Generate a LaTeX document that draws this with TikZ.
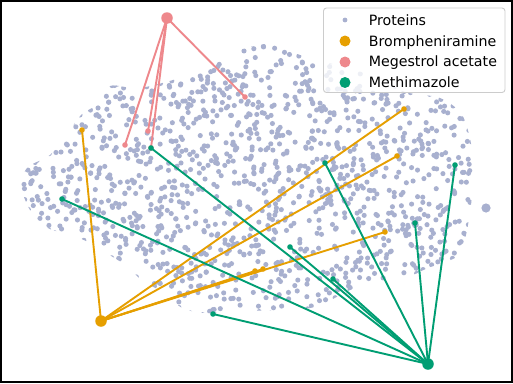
\documentclass[tikz,border=0pt]{standalone}
\usepackage{fontspec}
\setmainfont{DejaVu Sans}
\definecolor{prot}{RGB}{168,176,207}
\definecolor{brom}{RGB}{230,159,0}
\definecolor{mege}{RGB}{238,136,140}
\definecolor{meth}{RGB}{0,158,115}
\definecolor{legframe}{RGB}{204,204,204}
\tikzset{
  protdot/.style={fill=prot},
  hubdot/.style={circle,inner sep=0pt,minimum size=11.5pt,draw=none},
  tgtdot/.style={circle,inner sep=0pt,minimum size=5.6pt,draw=none},
  link/.style={line width=1.9pt},
  legtext/.style={anchor=base west,inner sep=0pt,font=\fontsize{14.2}{17}\selectfont},
}
\begin{document}
\begin{tikzpicture}[x=1pt,y=-1pt]
\useasboundingbox (0,0) rectangle (513,383);
\fill[white] (0,0) rectangle (513,383);
% protein cloud
\begin{scope}
\clip plot[smooth cycle] coordinates {
 (21,185) (28,167) (50,155) (70,130) (82,114) (98,104) (110,86) (140,88)
 (185,76) (212,60) (250,47) (275,44) (300,55) (340,66) (380,78) (405,92)
 (440,98) (462,115) (472,150) (472,195) (466,235) (458,256) (428,268)
 (400,280) (372,282) (350,290) (318,306) (290,310) (240,311) (205,313)
 (182,308) (166,294) (143,281) (124,264) (106,253) (86,241) (68,234)
 (48,228) (30,210)};
\pgfmathsetseed{11}
\foreach \i in {1,...,1750}{
  \pgfmathsetmacro\px{20+455*rnd}
  \pgfmathsetmacro\py{42+273*rnd}
  \fill[protdot] (\px,\py) circle (2.55);
}
\end{scope}
\fill[protdot] (486,208) circle (4.6);

% coordinates
\coordinate (B) at (101,321);
\coordinate (b1) at (82,130);
\coordinate (b2) at (404,109);
\coordinate (b3) at (397,156);
\coordinate (b4) at (385,232);
\coordinate (b5) at (255,271);
\coordinate (b6) at (263,269);

\coordinate (G) at (167,18);
\coordinate (g1) at (245,97);
\coordinate (g2) at (125,145);
\coordinate (g3) at (148,131);
\coordinate (g4) at (151,148);

\coordinate (M) at (428,364);
\coordinate (m1) at (151,148);
\coordinate (m2) at (62,199);
\coordinate (m3) at (213,314);
\coordinate (m4) at (325,163);
\coordinate (m5) at (455,165);
\coordinate (m6) at (415,223);
\coordinate (m7) at (290,247);
\coordinate (m8) at (333,279);

% Brompheniramine
\foreach \t in {b1,b2,b3,b4,b5,b6}{\draw[link,brom] (B) -- (\t);}
\foreach \t in {b1,b2,b3,b4,b5,b6}{\node[tgtdot,fill=brom] (n\t) at (\t) {};}
\node[hubdot,fill=brom] (nB) at (B) {};

% Megestrol acetate
\foreach \t in {g1,g2,g3,g4}{\draw[link,mege] (G) -- (\t);}
\foreach \t in {g1,g2,g3,g4}{\node[tgtdot,fill=mege] (n\t) at (\t) {};}
\node[hubdot,fill=mege] (nG) at (G) {};

% Methimazole
\foreach \t in {m1,m2,m3,m4,m5,m6,m7,m8}{\draw[link,meth] (M) -- (\t);}
\foreach \t in {m1,m2,m3,m4,m5,m6,m7,m8}{\node[tgtdot,fill=meth] (n\t) at (\t) {};}
\node[hubdot,fill=meth] (nM) at (M) {};

% legend
\draw[rounded corners=3pt,draw=legframe,line width=0.9pt,fill=white,fill opacity=0.8] (323.5,8) rectangle (505,92.5);
\fill[prot] (345,20) circle (2.4);
\fill[brom] (345,41) circle (5.5);
\fill[mege] (345,62) circle (5.5);
\fill[meth] (345,82.5) circle (5.5);
\node[legtext] (l1) at (368.6,25.3) {Proteins};
\node[legtext] (l2) at (368.6,46) {Brompheniramine};
\node[legtext] (l3) at (368.6,66.7) {Megestrol acetate};
\node[legtext] (l4) at (368.6,87.3) {Methimazole};

% frame
\draw[line width=1.7pt] (0.85,0.85) rectangle (512.15,382.15);
\end{tikzpicture}
\end{document}
